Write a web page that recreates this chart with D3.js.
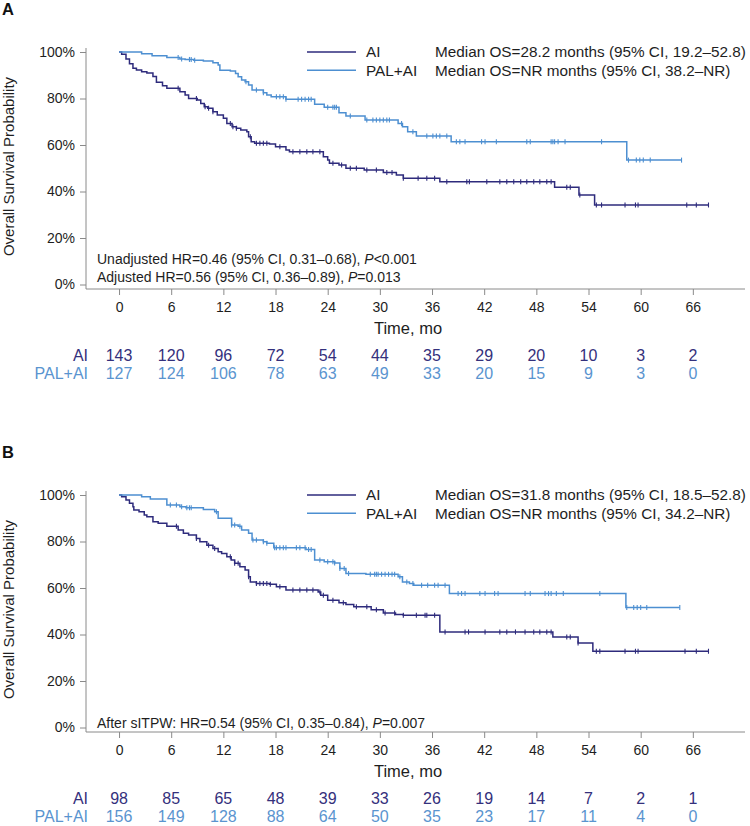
<!DOCTYPE html>
<html><head><meta charset="utf-8">
<script src="https://cdn.jsdelivr.net/npm/d3@7"></script>
<style>body{margin:0;background:#fff} svg{display:block;font-family:"Liberation Sans",Arial,Helvetica,sans-serif}</style>
</head><body><svg id="c" width="750" height="826"></svg>
<script>
// ---------- data ----------
const xTicks = [0, 6, 12, 18, 24, 30, 36, 42, 48, 54, 60, 66];
const yTicks = [0, 20, 40, 60, 80, 100];
const groups = ["AI", "PAL+AI"];

// Panel A
const aiA_t = [0,0.3,0.8,1.2,1.6,2.0,2.6,3.2,3.9,4.3,5.0,5.5,7.0,7.6,8.0,9.0,9.4,9.8,10.2,10.8,11.3,12.0,12.4,13.0,13.5,14.0,14.7,14.9,15.2,15.6,17.3,18.0,19.2,19.6,23.5,24.0,24.2,25.3,26.1,28.2,30.4,31.9,32.7,36.9,50.1,52.9,54.7];
const aiA_s = [100,99,97,95,93,92.3,91.5,91,89.5,87,85.5,84.4,82.9,81.5,80,79.4,77.9,76.5,75.8,74.3,72.9,71.5,69.3,67.9,67.2,66.5,65.7,63.6,61.4,60.7,60.4,59.3,57.9,57.1,55,53.5,52.1,51.4,50,49.2,48.2,47.1,45.7,44.2,41.8,38.5,34.2];
const aiA_end = 67.8;
const aiA_cens = [6.8,8.9,9.9,10.3,10.8,12.8,13.1,13.5,15.1,15.8,16.2,16.6,17.0,18.5,20.0,20.8,21.6,22.3,23.1,24.6,25.6,26.6,27.3,28.5,29.6,30.8,31.4,32.7,34.4,35.4,36.3,37.7,40.0,40.3,42.3,43.8,44.6,45.4,46.2,46.9,47.7,48.4,49.2,49.7,51.5,51.9,53.0,54.9,55.5,58.2,59.4,59.7,65.3,66.4,67.8];
const palA_t = [0,2.6,3.8,5.5,7.0,7.6,8.6,9.7,10.8,11.4,11.6,12.8,13.4,13.7,14.1,14.5,14.9,15.3,16.6,17.0,17.5,19.2,22.5,23.6,25.3,26.1,28.3,32.1,32.6,33.2,34.2,38.2,58.4];
const palA_s = [100,99.2,98.4,97.6,97.0,96.8,96.5,96.1,95.4,94.4,92.2,91.8,90.8,89.4,88.0,87.2,85.8,83.7,82.5,81.5,80.8,79.7,77.5,76.2,73.9,72.5,70.8,69.3,67.9,65.7,63.9,61.4,53.5];
const palA_end = 64.7;
const palA_cens = [6.8,7.2,8.1,8.3,8.7,14.6,15.8,16.6,18.1,18.5,18.9,19.2,20.6,21.0,21.4,21.8,22.1,24.0,24.6,24.8,25.0,26.6,28.5,29.2,29.6,30.0,30.4,30.8,31.1,32.5,33.8,35.4,36.1,36.5,36.9,37.7,38.8,39.2,39.8,41.7,42.1,43.4,46.9,47.3,49.7,49.9,50.1,50.5,51.3,55.5,58.6,59.5,59.9,60.3,61.1,64.7];
const riskA_ai = [143,120,96,72,54,44,35,29,20,10,3,2];
const riskA_pal = [127,124,106,78,63,49,33,20,15,9,3,0];

// Panel B
const aiB_t = [0,0.3,0.8,1.2,1.6,1.7,2.3,2.9,3.2,3.9,4.5,5.5,6.8,7.4,8.0,8.9,9.3,10.1,10.8,11.4,11.8,12.4,12.9,13.3,13.9,14.5,14.9,15.1,15.8,17.3,18.1,19.2,22.9,23.2,24.0,25.3,26.1,27.0,29.0,30.4,31.8,32.7,36.9,49.9,52.8,54.5];
const aiB_s = [100,99.3,97.8,96.4,95,93.5,92.8,91.4,90.6,88.5,87.8,86.6,84.9,83.5,82.8,81.3,79.9,78.4,77.0,75.6,74.8,73.4,72.0,70.6,69.1,67.7,64.8,62.6,61.9,61.6,60.5,59.1,58.3,56.9,54.7,53.7,52.9,51.9,50.6,49.3,48.6,48.3,41.1,38.9,36.3,32.8];
const aiB_end = 67.8;
const aiB_cens = [6.6,8.9,10.3,11.0,12.8,13.3,13.7,14.9,15.8,16.2,16.6,17.0,17.4,18.5,20.0,20.8,21.6,22.3,23.1,23.5,24.6,25.8,27.3,28.5,29.6,30.6,31.7,32.7,34.2,35.2,35.4,36.3,37.5,39.8,40.2,42.1,43.8,44.6,45.6,46.7,47.7,48.4,49.2,49.7,51.5,51.9,52.8,54.9,55.3,58.2,59.4,59.7,65.1,66.4,67.8];
const palB_t = [0,2.6,3.6,5.5,7.0,7.7,9.7,11.0,11.4,12.95,13.7,14.1,14.9,15.3,16.6,17.0,17.8,21.5,22.5,23.6,24.8,25.4,26.1,28.4,32.1,32.6,33.4,33.9,38.0,58.3];
const palB_s = [100,99.3,98.3,95.7,95.0,94.5,93.8,92.8,90.0,87.1,86.6,84.9,83.5,80.6,79.9,79.2,77.3,76.6,72.0,71.3,70.8,68.4,66.2,65.9,64.8,62.6,61.9,61.2,57.6,51.6];
const palB_end = 64.5;
const palB_cens = [5.9,6.6,7.2,7.8,8.1,8.3,11.2,12.95,13.3,13.9,15.4,15.8,16.6,17.0,17.9,18.1,18.5,18.9,19.2,20.4,20.8,21.4,21.8,22.1,23.1,24.0,24.6,24.8,25.4,25.9,26.4,28.9,29.6,29.4,29.8,30.2,30.6,31.0,31.4,31.7,32.3,33.1,33.8,34.8,35.5,36.3,36.7,37.5,39.0,39.4,39.8,41.5,42.1,43.2,43.6,46.7,47.3,49.0,49.4,49.7,50.3,51.1,55.3,58.4,59.2,59.6,60.0,60.7,64.5];
const riskB_ai = [98,85,65,48,39,33,26,19,14,7,2,1];
const riskB_pal = [156,149,128,88,64,50,35,23,17,11,4,0];

// ---------- drawing ----------
const colAI = "#2e2b7c", colPAL = "#4d8fd1";
const riskAI = "#34307c", riskPAL = "#5a94cf";
const axisCol = "#8a8a8a", txt = "#1e1e1e";
const svg = d3.select("#c");
const x = d3.scaleLinear().domain([-3.8, 72]).range([86, 745]);

function panel(cfg) {
  const g = svg.append("g");
  const y = d3.scaleLinear().domain([0, 100]).range([cfg.y0, cfg.y0 - 232.5]);
  const axisY = cfg.y0 + 4.5;
  g.append("text").attr("x", 2).attr("y", cfg.y0 - 269.5).attr("font-size", 16.5)
    .attr("font-weight", "bold").attr("fill", "#111").text(cfg.letter);
  // y axis
  const ya = g.append("g").attr("transform", "translate(86,0)")
    .call(d3.axisLeft(y).tickValues(yTicks).tickSize(6).tickSizeOuter(0).tickPadding(5).tickFormat(d => d + "%"));
  ya.attr("font-family", null).attr("font-size", null);
  ya.select(".domain").remove();
  ya.selectAll("line").attr("stroke", axisCol);
  ya.selectAll("text").attr("font-size", 14).attr("fill", txt);
  g.append("line").attr("x1", 86).attr("x2", 86).attr("y1", y(100) - 4).attr("y2", axisY).attr("stroke", axisCol);
  // x axis
  const xa = g.append("g").attr("transform", `translate(0,${axisY})`)
    .call(d3.axisBottom(x).tickValues(xTicks).tickSize(6).tickSizeOuter(0).tickPadding(7));
  xa.attr("font-family", null).attr("font-size", null);
  xa.select(".domain").remove();
  xa.selectAll("line").attr("stroke", axisCol);
  xa.selectAll("text").attr("font-size", 14).attr("fill", txt);
  g.append("line").attr("x1", 86).attr("x2", 745).attr("y1", axisY).attr("y2", axisY).attr("stroke", axisCol);
  g.append("text").attr("x", 408).attr("y", axisY + 44.5).attr("text-anchor", "middle")
    .attr("font-size", 16.5).attr("fill", txt).text("Time, mo");
  g.append("text").attr("transform", `translate(14,${cfg.y0 - 118}) rotate(-90)`)
    .attr("text-anchor", "middle").attr("font-size", 15).attr("fill", txt).text("Overall Survival Probability");

  const line = d3.line().x(d => x(d[0])).y(d => y(d[1])).curve(d3.curveStepAfter);
  cfg.series.forEach(s => {
    const pts = s.t.map((t, i) => [t, s.s[i]]);
    pts.push([s.end, s.s[s.s.length - 1]]);
    g.append("path").attr("d", line(pts)).attr("fill", "none").attr("stroke", s.color).attr("stroke-width", 1.5);
    const surv = t => s.s[Math.max(0, d3.bisectRight(s.t, t) - 1)];
    g.append("g").selectAll("line").data(s.c).join("line")
      .attr("x1", d => x(d)).attr("x2", d => x(d))
      .attr("y1", d => y(surv(d)) - 2.5).attr("y2", d => y(surv(d)) + 2.5)
      .attr("stroke", s.color).attr("stroke-width", 1.1);
  });
  const ly = cfg.y0 - 232.5;
  cfg.legend.forEach((L, i) => {
    const yy = ly + i * 18.3;
    g.append("line").attr("x1", 307).attr("x2", 356).attr("y1", yy).attr("y2", yy)
      .attr("stroke", L.color).attr("stroke-width", 1.5);
    g.append("text").attr("x", 366).attr("y", yy).attr("dy", "0.35em").attr("font-size", 15.3)
      .attr("fill", txt).text(groups[i]);
    g.append("text").attr("x", 435).attr("y", yy).attr("dy", "0.35em").attr("font-size", 15.3)
      .attr("fill", txt).text(L.text);
  });
  cfg.hr.forEach((h, i) => {
    const t = g.append("text").attr("x", 97).attr("y", cfg.hrY + i * 18).attr("dy", "0.35em")
      .attr("font-size", 14).attr("fill", txt);
    t.append("tspan").text(h[0]);
    t.append("tspan").attr("font-style", "italic").text("P");
    t.append("tspan").text(h[1]);
  });
  const r1 = axisY + 66, r2 = r1 + 18;
  [[r1, cfg.risk[0], riskAI, groups[0]], [r2, cfg.risk[1], riskPAL, groups[1]]].forEach(([ry, vals, col, lab]) => {
    g.append("text").attr("x", 88).attr("y", ry).attr("dy", "0.35em").attr("text-anchor", "end")
      .attr("font-size", 16).attr("fill", col).text(lab);
    g.append("g").selectAll("text").data(vals).join("text")
      .attr("x", (d, i) => x(xTicks[i])).attr("y", ry).attr("dy", "0.35em").attr("text-anchor", "middle")
      .attr("font-size", 16).attr("fill", col).text(d => d);
  });
}

panel({
  letter: "A", y0: 284.5, hrY: 259,
  series: [
    {t: aiA_t, s: aiA_s, end: aiA_end, c: aiA_cens, color: colAI},
    {t: palA_t, s: palA_s, end: palA_end, c: palA_cens, color: colPAL}
  ],
  legend: [
    {color: colAI, text: "Median OS=28.2 months (95% CI, 19.2\u201352.8)"},
    {color: colPAL, text: "Median OS=NR months (95% CI, 38.2\u2013NR)"}
  ],
  hr: [["Unadjusted HR=0.46 (95% CI, 0.31\u20130.68), ", "<0.001"],
       ["Adjusted HR=0.56 (95% CI, 0.36\u20130.89), ", "=0.013"]],
  risk: [riskA_ai, riskA_pal]
});
panel({
  letter: "B", y0: 727.5, hrY: 723,
  series: [
    {t: aiB_t, s: aiB_s, end: aiB_end, c: aiB_cens, color: colAI},
    {t: palB_t, s: palB_s, end: palB_end, c: palB_cens, color: colPAL}
  ],
  legend: [
    {color: colAI, text: "Median OS=31.8 months (95% CI, 18.5\u201352.8)"},
    {color: colPAL, text: "Median OS=NR months (95% CI, 34.2\u2013NR)"}
  ],
  hr: [["After sITPW: HR=0.54 (95% CI, 0.35\u20130.84), ", "=0.007"]],
  risk: [riskB_ai, riskB_pal]
});
</script></body></html>
